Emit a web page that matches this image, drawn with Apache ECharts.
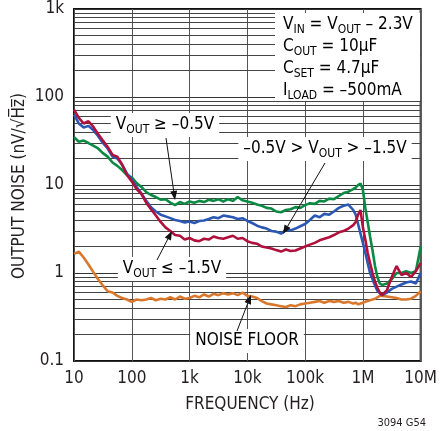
<!DOCTYPE html>
<html><head><meta charset="utf-8">
<script src="https://cdn.jsdelivr.net/npm/echarts@6/dist/echarts.min.js"></script>
<style>html,body{margin:0;padding:0;background:#fff}#c{width:440px;height:431px}</style>
</head><body><div id="c"></div>
<script>
// ---- data ----
const freqHz = [10,12.1,14.7,17.8,21.5,26.1,31.6,38.3,46.4,56.2,68.1,82.5,
 100,121,147,178,215,261,316,383,464,562,681,825,
 1000,1210,1470,1780,2150,2610,3160,3830,4640,5620,6810,8250,
 10000,12100,14700,17800,21500,26100,31600,38300,46400,56200,68100,82500,
 100000,121000,147000,178000,215000,261000,316000,383000,464000,562000,
 681000,750000,825000,909000,1000000,1100000,1210000,1330000,1470000,1620000,1780000,1960000,2150000,
 2610000,3160000,3830000,4640000,5620000,6810000,8250000,10000000];
// VOUT >= -0.5V (green)
const noiseHigh = [35,31,32,30,28,26,23,21,18,16.5,14.8,13,
 12.2,10.5,9.5,8.3,7.7,7.3,6.8,6.9,6.3,5.9,6.4,6.1,
 6.5,6.3,6.6,6.4,6.8,6.6,6.9,6.5,6.9,6.6,7.3,6.7,
 6.5,6.3,6.0,5.8,5.5,5.4,5.0,4.9,5.2,5.3,5.6,5.5,
 5.9,6.2,6.1,6.6,6.5,7.0,6.9,7.5,8.1,8.4,
 9.0,9.3,10.0,10.4,8.8,5.5,3.8,2.6,1.8,1.2,0.9,0.76,0.73,
 0.76,0.85,1.0,1.0,1.05,1.0,1.05,2.0];
// -0.5V > VOUT > -1.5V (blue)
const noiseMid = [63,50,45,47,42,36,30,26,21,20,17,13.5,
 11.5,9.5,8.0,6.6,5.6,5.0,4.6,4.4,4.2,4.0,3.9,3.75,
 3.85,3.7,3.9,3.95,4.1,4.3,4.2,4.5,4.4,4.3,4.1,4.2,
 3.9,3.7,3.45,3.3,3.2,3.0,2.95,2.8,3.1,3.05,3.2,3.4,
 3.6,4.0,4.5,4.3,4.7,4.6,5.0,5.5,5.8,6.0,
 5.2,4.6,3.6,2.8,2.2,1.7,1.3,1.0,0.85,0.72,0.63,0.59,0.56,
 0.6,0.66,0.7,0.74,0.78,0.8,0.76,1.0];
// VOUT <= -1.5V (red)
const noiseLow = [72,58,50,53,46,38,32,27,22,21,17,13,
 11,9.0,7.9,6.3,5.3,4.5,3.8,3.3,3.0,2.7,2.65,2.4,
 2.5,2.35,2.3,2.45,2.4,2.6,2.5,2.45,2.55,2.65,2.45,2.5,
 2.3,2.2,2.15,2.0,1.95,1.9,1.82,1.75,1.85,1.78,1.8,1.9,
 2.0,2.1,2.2,2.35,2.45,2.55,2.7,2.9,3.0,3.2,
 3.5,3.8,4.6,5.2,3.3,2.4,1.7,1.3,1.0,0.8,0.68,0.6,0.56,
 0.64,0.9,1.2,0.95,1.0,0.9,1.05,1.3];
// noise floor (orange)
const noiseFloor = [1.65,1.75,1.5,1.25,1.03,0.85,0.72,0.62,0.6,0.55,0.52,0.5,
 0.47,0.5,0.49,0.5,0.52,0.49,0.51,0.5,0.53,0.5,0.54,0.51,
 0.52,0.55,0.53,0.57,0.54,0.58,0.56,0.59,0.57,0.59,0.56,0.6,
 0.55,0.54,0.52,0.48,0.45,0.44,0.43,0.42,0.41,0.43,0.42,0.44,
 0.45,0.46,0.47,0.48,0.46,0.48,0.47,0.48,0.46,0.47,
 0.45,0.46,0.44,0.45,0.46,0.47,0.48,0.49,0.5,0.51,0.53,0.55,0.55,
 0.54,0.53,0.52,0.5,0.5,0.51,0.55,0.62];
const xTickValues = [10,100,1000,10000,100000,1000000,10000000];
const xTickLabels = ['10','100','1k','10k','100k','1M','10M'];
const yTickValues = [0.1,1,10,100,1000];
const yTickLabels = ['0.1','1','10','100','1k'];

// ---- chart ----
const F = '"DejaVu Sans Condensed","Liberation Sans Narrow",sans-serif';
const TXT = '#231f20';
function pair(vals){ return freqHz.map((f,i)=>[f, vals[i]]); }
function lab(list, names){ return v => { for (let i=0;i<list.length;i++){ if (Math.abs(Math.log10(v)-Math.log10(list[i]))<1e-6) return names[i]; } return ''; }; }
const minor = [];
[0.1,1,10,100].forEach(d=>{ for(let m=2;m<=9;m++) minor.push({yAxis: +(d*m).toPrecision(3)}); });

const chart = echarts.init(document.getElementById('c'), null, {renderer:'canvas'});
const rich = {
  m:{fontSize:17, fontFamily:F, color:TXT, lineHeight:22},
  s:{fontSize:12, fontFamily:F, color:TXT, lineHeight:22, padding:[10,0,0,0]}
};
function mkSeries(name, vals, color, extra){
  return Object.assign({type:'line', name, data:pair(vals), showSymbol:false, symbol:'none',
    lineStyle:{color, width:2.6}, itemStyle:{color}, z:3, silent:true, animation:false}, extra||{});
}
chart.setOption({
  animation:false,
  grid:{left:74, top:9, width:352, height:352, show:true, borderColor:'#111', borderWidth:2, backgroundColor:'transparent'},
  xAxis:{type:'log', logBase:10, min:10, max:1e7, splitNumber:6,
    axisLine:{show:false}, axisTick:{show:false},
    axisLabel:{formatter:lab(xTickValues,xTickLabels), fontFamily:F, fontSize:17, color:TXT, margin:9, showMinLabel:true, showMaxLabel:true},
    splitLine:{show:true, lineStyle:{color:'#555', width:1}}},
  yAxis:{type:'log', logBase:10, min:0.1, max:1000, splitNumber:4,
    axisLine:{show:false}, axisTick:{show:false},
    axisLabel:{formatter:lab(yTickValues,yTickLabels), fontFamily:F, fontSize:17, color:TXT, margin:10, showMinLabel:true, showMaxLabel:true},
    splitLine:{show:true, lineStyle:{color:'#333', width:1}}},
  series:[
    {type:'line', data:[], silent:true, z:1, markLine:{silent:true, z:1, symbol:['none','none'], label:{show:false}, animation:false,
      lineStyle:{color:'#444', width:1, type:'solid'}, emphasis:{disabled:true}, data:minor}},
    mkSeries('floor', noiseFloor, '#d9782d'),
    mkSeries('high', noiseHigh, '#0b8a43'),
    mkSeries('mid', noiseMid, '#2b58b4'),
    mkSeries('low', noiseLow, '#b0103c')
  ]
});

function arrow(x1,y1,x2,y2){
  const a=Math.atan2(y2-y1,x2-x1), L=9, W=3.5;
  const bx=x2-L*Math.cos(a), by=y2-L*Math.sin(a);
  const px=-Math.sin(a)*W, py=Math.cos(a)*W;
  return [
    {type:'line', z:20, shape:{x1,y1,x2:bx,y2:by}, style:{stroke:'#111', lineWidth:1}},
    {type:'polygon', z:20, shape:{points:[[x2,y2],[bx+px,by+py],[bx-px,by-py]]}, style:{fill:'#111'}}
  ];
}
function box(x,y,text){
  return {type:'text', x, y, z:15, style:{text, rich, align:'center', verticalAlign:'middle',
    backgroundColor:'#fff', padding:[1,5,1,5]}};
}
const g = [
  {type:'rect', z:14, shape:{x:275,y:13,width:145,height:88}, style:{fill:'#fff'}},
  {type:'text', x:283, y:14, z:15, style:{text:'{m|V}{s|IN}{m| = V}{s|OUT}{m| – 2.3V}\n{m|C}{s|OUT}{m| = 10µF}\n{m|C}{s|SET}{m| = 4.7µF}\n{m|I}{s|LOAD}{m| = –500mA}', rich, align:'left', verticalAlign:'top'}},
  box(165,125,'{m|V}{s|OUT}{m| ≥ –0.5V}'),
  box(325,149,'{m|–0.5V > V}{s|OUT}{m| > –1.5V}'),
  box(172,269,'{m|V}{s|OUT}{m| ≤ –1.5V}'),
  box(247,341,'{m|NOISE FLOOR}'),
  {type:'text', x:250, y:405, z:15, style:{text:'FREQUENCY (Hz)', font:'17px '+F, fill:TXT, align:'center', verticalAlign:'middle'}},
  {type:'text', x:20, y:186, z:15, rotation:Math.PI/2, style:{text:'OUTPUT NOISE (nV/√H\u0305z\u0305)', font:'17px '+F, fill:TXT, align:'center', verticalAlign:'middle'}},
  {type:'text', x:426, y:423, z:15, style:{text:'3094 G54', font:'11px '+F, fill:TXT, align:'right', verticalAlign:'middle'}}
].concat(arrow(166,138,175,200), arrow(325,163,283,234), arrow(157,260,172,231), arrow(237,331,251,295));
chart.setOption({graphic:g});
</script></body></html>
